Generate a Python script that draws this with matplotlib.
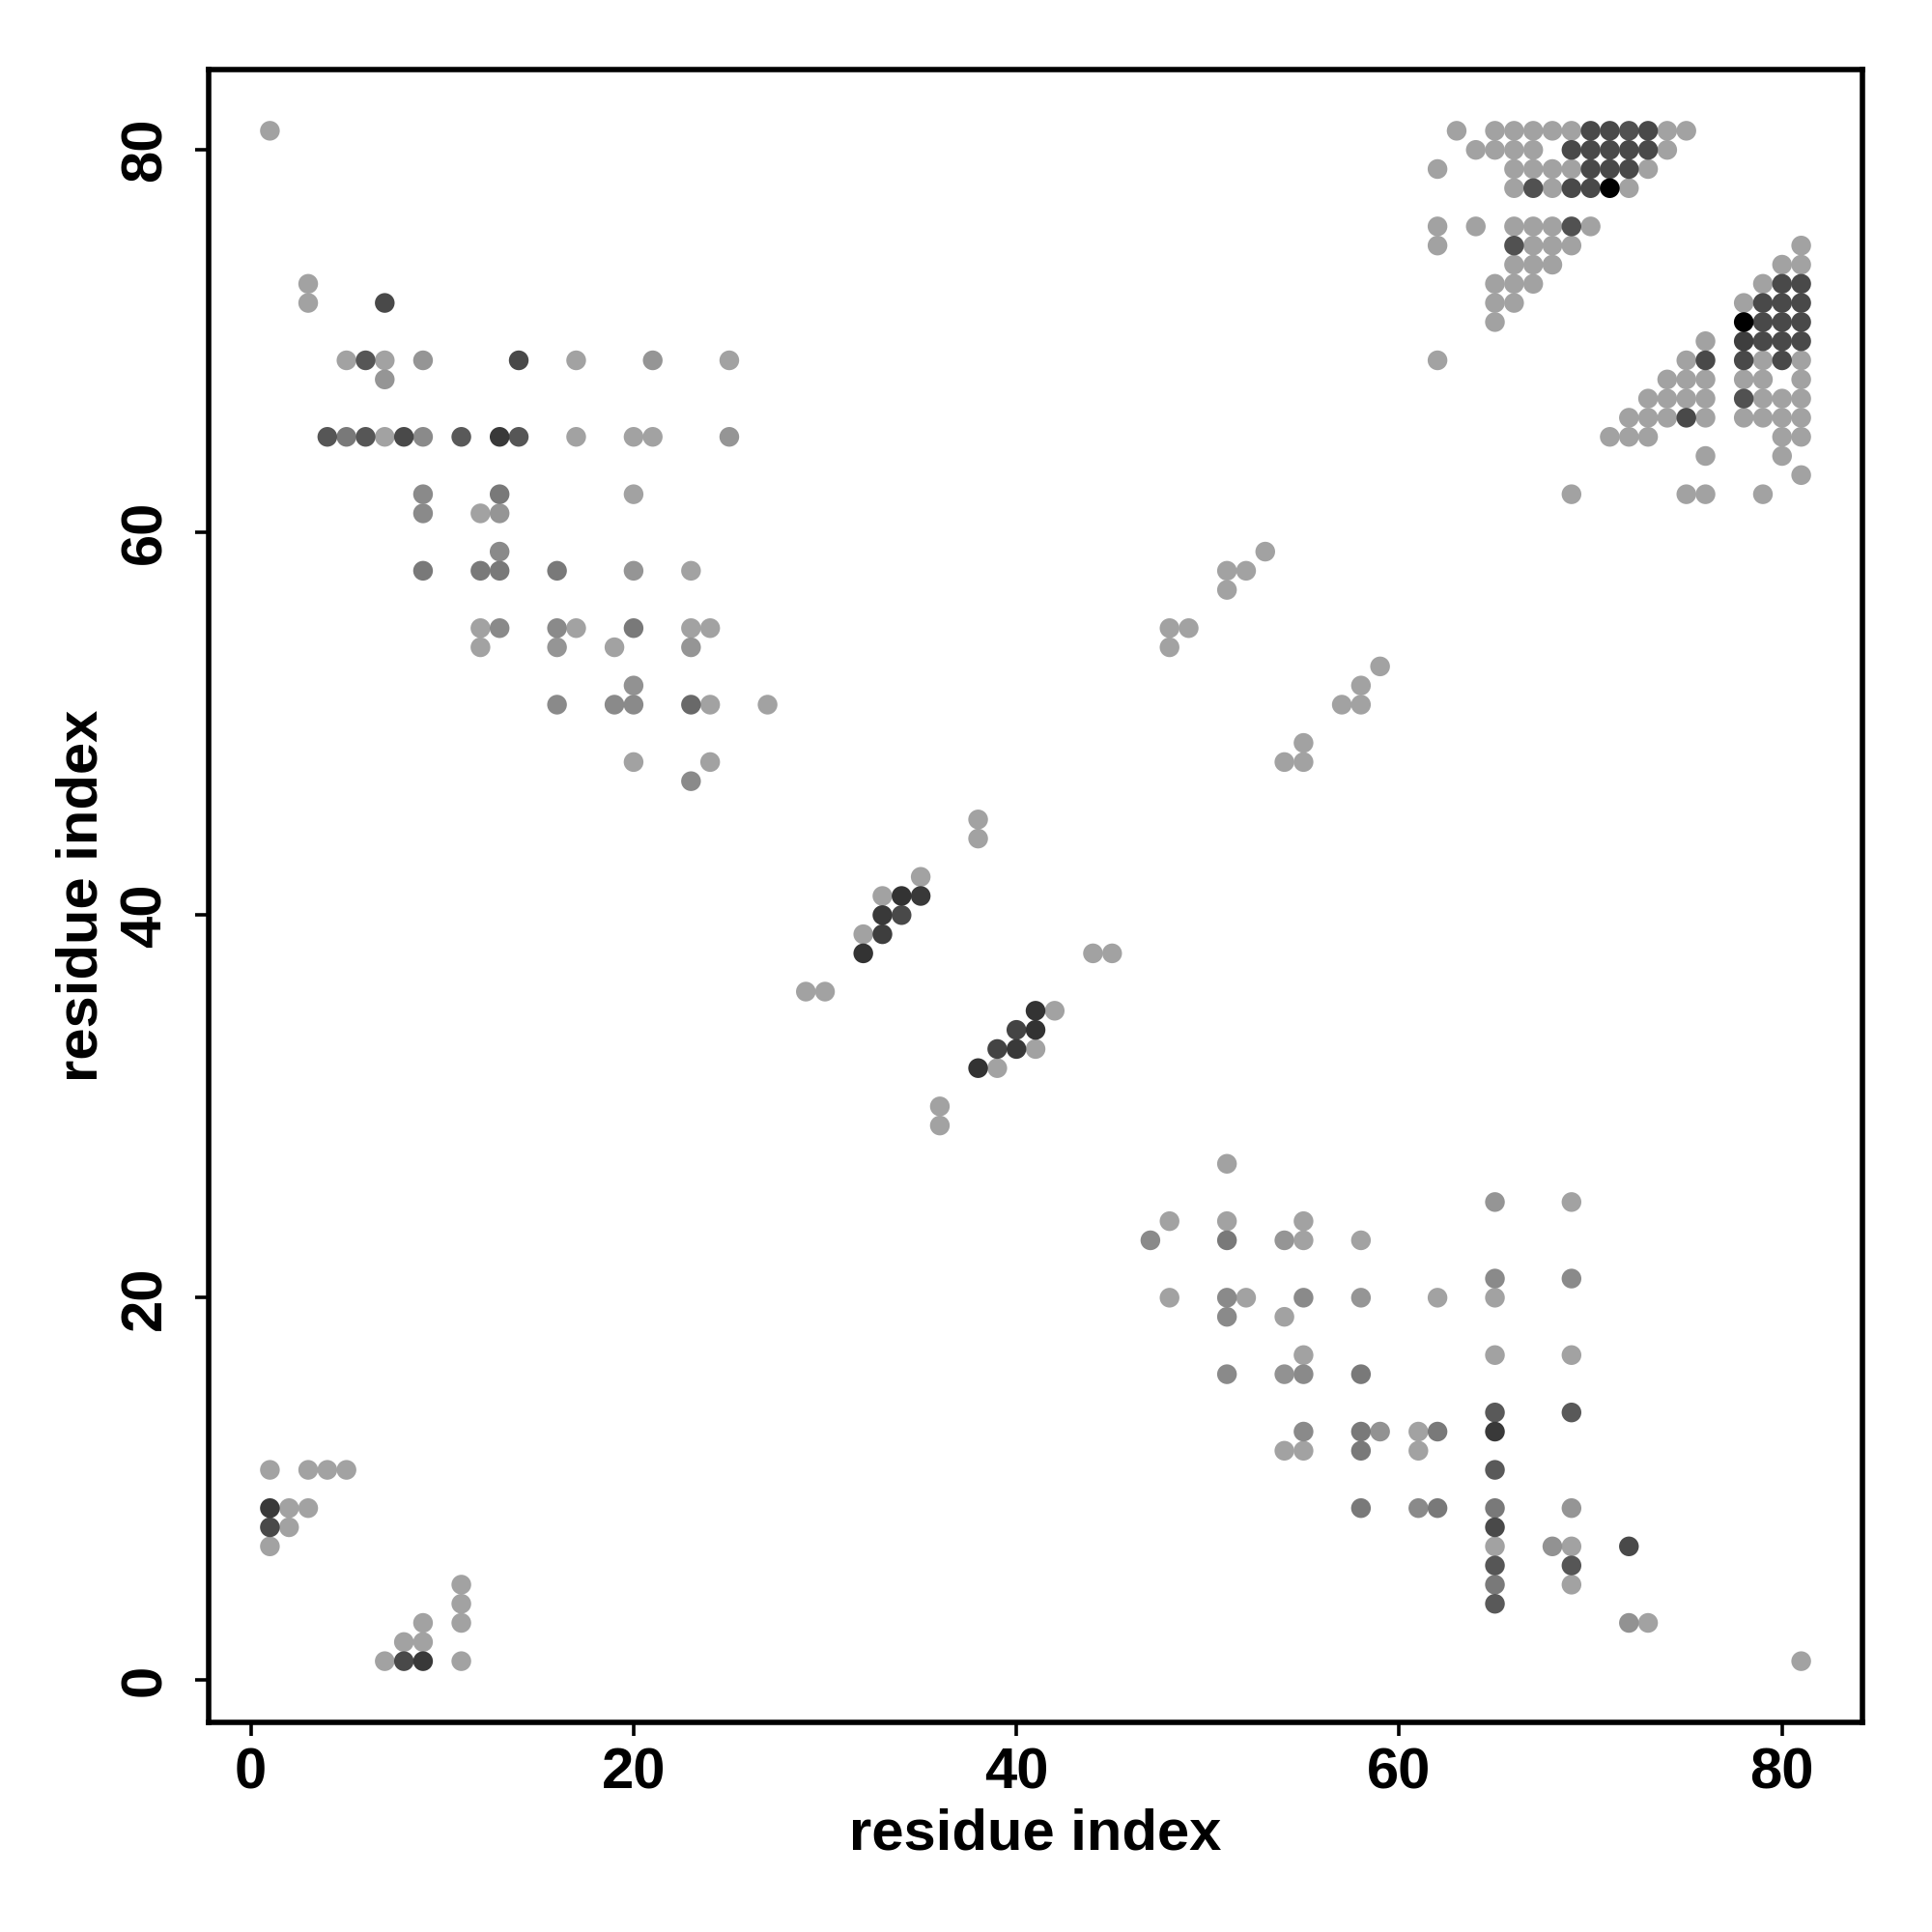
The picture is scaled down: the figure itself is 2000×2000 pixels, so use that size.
import numpy as np
import matplotlib
matplotlib.use("Agg")
import matplotlib.pyplot as plt
from matplotlib.colors import LinearSegmentedColormap

plt.rcParams['font.family'] = ['Liberation Sans', 'DejaVu Sans']
plt.rcParams['font.weight'] = 'bold'

# contact map: residue i, residue j, contact strength (0 = weak/light, 1 = strong/black)
top_left = [
    (1, 81, 0), (3, 73, 0), (3, 72, 0), (7, 72, .55),
    (5, 69, 0), (6, 69, .47), (7, 69, 0), (9, 69, .08), (14, 69, .55), (17, 69, 0), (21, 69, .08), (25, 69, 0),
    (7, 68, .08),
    (4, 65, .47), (5, 65, .25), (6, 65, .47), (7, 65, 0), (8, 65, .55), (9, 65, .15), (11, 65, .45),
    (13, 65, .65), (14, 65, .47), (17, 65, 0), (20, 65, 0), (21, 65, 0), (25, 65, .08),
    (9, 62, .15), (13, 62, .25), (20, 62, 0),
    (9, 61, .15), (12, 61, 0), (13, 61, .08),
    (13, 59, .15),
    (9, 58, .25), (12, 58, .25), (13, 58, .25), (16, 58, .25), (20, 58, .08), (23, 58, 0),
    (12, 55, 0), (13, 55, .15), (16, 55, .15), (17, 55, 0), (20, 55, .25), (23, 55, 0), (24, 55, 0),
    (12, 54, 0), (16, 54, .08), (19, 54, 0), (23, 54, .08),
    (20, 52, .1),
    (16, 51, .15), (19, 51, .15), (20, 51, .15), (23, 51, .35), (24, 51, 0), (27, 51, 0),
    (20, 48, 0), (24, 48, 0),
    (23, 47, .15),
]

top_right = [
    (63, 81, 0), (65, 81, 0), (66, 81, 0), (67, 81, 0), (68, 81, 0), (69, 81, 0),
    (70, 81, .55), (71, 81, .55), (72, 81, .5), (73, 81, .55), (74, 81, 0), (75, 81, 0),
    (64, 80, 0), (65, 80, 0), (66, 80, 0), (67, 80, 0),
    (69, 80, .55), (70, 80, .55), (71, 80, .55), (72, 80, .55), (73, 80, .55), (74, 80, 0),
    (62, 79, 0), (66, 79, 0), (67, 79, 0), (68, 79, 0), (69, 79, 0),
    (70, 79, .55), (71, 79, .55), (72, 79, .55), (73, 79, 0),
    (66, 78, 0), (67, 78, .5), (68, 78, 0), (69, 78, .55), (70, 78, .55), (71, 78, 1), (72, 78, 0),
    (62, 76, 0), (64, 76, 0), (66, 76, 0), (67, 76, 0), (68, 76, 0), (69, 76, .5), (70, 76, 0),
    (62, 75, 0), (66, 75, .5), (67, 75, 0), (68, 75, 0), (69, 75, 0), (81, 75, 0),
    (66, 74, 0), (67, 74, 0), (68, 74, 0), (80, 74, 0), (81, 74, 0),
    (65, 73, 0), (66, 73, 0), (67, 73, 0), (79, 73, 0), (80, 73, .55), (81, 73, .55),
    (65, 72, 0), (66, 72, 0), (78, 72, 0), (79, 72, .55), (80, 72, .55), (81, 72, .55),
    (65, 71, 0), (78, 71, 1), (79, 71, .55), (80, 71, .55), (81, 71, .55),
    (76, 70, 0), (78, 70, .62), (79, 70, .55), (80, 70, .55), (81, 70, .55),
    (62, 69, 0), (75, 69, 0), (76, 69, .55), (78, 69, .55), (79, 69, 0), (80, 69, .55), (81, 69, 0),
    (74, 68, 0), (75, 68, 0), (76, 68, 0), (78, 68, 0), (79, 68, 0), (81, 68, 0),
    (73, 67, 0), (74, 67, 0), (75, 67, 0), (76, 67, 0), (78, 67, .5), (79, 67, 0), (80, 67, 0), (81, 67, 0),
    (72, 66, 0), (73, 66, 0), (74, 66, 0), (75, 66, .55), (76, 66, 0),
    (78, 66, 0), (79, 66, 0), (80, 66, 0), (81, 66, 0),
    (71, 65, 0), (72, 65, 0), (73, 65, 0), (80, 65, 0), (81, 65, 0),
    (76, 64, 0), (80, 64, 0),
    (81, 63, 0),
    (69, 62, 0), (75, 62, 0), (76, 62, 0), (79, 62, 0),
]

middle = [
    (53, 59, 0), (51, 58, 0), (52, 58, 0), (51, 57, 0),
    (48, 55, 0), (49, 55, 0), (48, 54, 0),
    (59, 53, 0), (58, 52, 0), (57, 51, 0), (58, 51, 0),
    (55, 49, 0), (54, 48, 0), (55, 48, 0),
    (38, 45, 0), (38, 44, 0),
    (35, 42, 0), (33, 41, 0), (34, 41, .68), (35, 41, .65),
    (33, 40, .65), (34, 40, .55), (32, 39, 0), (33, 39, .62), (32, 38, .68),
    (44, 38, 0), (45, 38, 0), (29, 36, 0), (30, 36, 0),
    (41, 35, .68), (42, 35, 0), (40, 34, .58), (41, 34, .68),
    (39, 33, .58), (40, 33, .65), (41, 33, 0), (38, 32, .68), (39, 32, 0),
    (36, 30, 0), (36, 29, 0),
]

bottom_right = [
    (51, 27, 0),
    (65, 25, .08), (69, 25, 0),
    (48, 24, 0), (51, 24, 0), (55, 24, 0),
    (47, 23, .15), (51, 23, .25), (54, 23, .08), (55, 23, 0), (58, 23, 0),
    (65, 21, .15), (69, 21, .15),
    (48, 20, 0), (51, 20, .15), (52, 20, 0), (55, 20, .15), (58, 20, .08), (62, 20, 0), (65, 20, 0),
    (51, 19, .15), (54, 19, 0),
    (55, 17, 0), (65, 17, 0), (69, 17, 0),
    (51, 16, .15), (54, 16, .1), (55, 16, .15), (58, 16, .25),
    (65, 14, .45), (69, 14, .45),
    (55, 13, .15), (58, 13, .25), (59, 13, .1), (61, 13, 0), (62, 13, .25), (65, 13, .65),
    (54, 12, 0), (55, 12, 0), (58, 12, .25), (61, 12, 0),
    (65, 11, .45),
    (58, 9, .25), (61, 9, .15), (62, 9, .25), (65, 9, .25), (69, 9, .08),
    (65, 8, .55),
    (65, 7, 0), (68, 7, .1), (69, 7, 0), (72, 7, .55),
    (65, 6, .47), (69, 6, .47),
    (65, 5, .25), (69, 5, 0),
    (65, 4, .45),
    (72, 3, .1), (73, 3, 0),
    (81, 1, 0),
]

bottom_left = [
    (1, 11, 0), (3, 11, 0), (4, 11, 0), (5, 11, 0),
    (1, 9, .65), (2, 9, 0), (3, 9, 0),
    (1, 8, .55), (2, 8, 0),
    (1, 7, 0),
    (11, 5, 0), (11, 4, 0),
    (9, 3, 0), (11, 3, 0),
    (8, 2, 0), (9, 2, 0),
    (7, 1, 0), (8, 1, .55), (9, 1, .65), (11, 1, 0),
]

contacts = np.array(top_left + top_right + middle + bottom_right + bottom_left, dtype=float)
res_i = contacts[:, 0]
res_j = contacts[:, 1]
strength = contacts[:, 2]

cmap = LinearSegmentedColormap.from_list('grey_contacts', ['#a2a2a2', '#000000'])

fig = plt.figure(figsize=(10, 10), dpi=200)
ax = fig.add_axes([0.108, 0.1085, 0.856, 0.8555])

# weak contacts first so strong ones sit on top
order = np.argsort(strength)
ax.scatter(res_i[order], res_j[order], c=strength[order], cmap=cmap, vmin=0, vmax=1,
           s=54, linewidths=0, zorder=3)

ax.set_xlim(-2.2, 84.2)
ax.set_ylim(-2.2, 84.2)
ax.set_xticks([0, 20, 40, 60, 80])
ax.set_yticks([0, 20, 40, 60, 80])

for sp in ax.spines.values():
    sp.set_linewidth(2)
ax.tick_params(direction='out', length=5, width=1.3, labelsize=21.5)
ax.tick_params(axis='x', pad=4)
ax.tick_params(axis='y', pad=8.5)
for lab in ax.get_yticklabels():
    lab.set_rotation(90)
    lab.set_va('center')

ax.set_xlabel('residue index', fontsize=21.5, fontweight='bold', labelpad=3)
ax.set_ylabel('residue index', fontsize=21.5, fontweight='bold', labelpad=4)

fig.savefig('out.png', dpi=200, facecolor='white')
